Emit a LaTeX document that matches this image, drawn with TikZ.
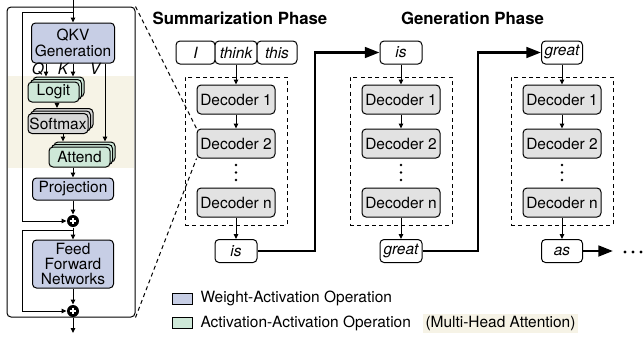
\documentclass[tikz,border=0pt]{standalone}
\usepackage{fontspec}
\setmainfont{TeX Gyre Heros}
\usetikzlibrary{arrows.meta}

\definecolor{waBlue}{RGB}{199,206,229}
\definecolor{aaGreen}{RGB}{206,232,216}
\definecolor{smGray}{RGB}{215,215,215}
\definecolor{decGray}{RGB}{226,226,226}
\definecolor{mhaBeige}{RGB}{246,243,230}

\tikzset{every picture/.style={line width=0.75pt}}
\tikzset{
  wabox/.style={draw, rounded corners=3pt, fill=waBlue, inner sep=0pt, align=center},
  aabox/.style={draw, rounded corners=3pt, fill=aaGreen, inner sep=0pt, minimum height=15pt},
  smbox/.style={draw, rounded corners=3pt, fill=smGray, inner sep=0pt, minimum height=15pt},
  decbox/.style={draw, rounded corners=3pt, fill=decGray, inner sep=0pt, minimum width=58.5pt, minimum height=21.75pt},
  tokbox/.style={draw, rounded corners=3pt, fill=white, inner sep=0pt, minimum height=17.25pt, font=\fontsize{11.6}{13}\selectfont\itshape},
  grpbox/.style={draw, dash pattern={on 3pt off 2.5pt}, inner sep=0pt, minimum width=76.5pt, minimum height=111pt},
  plusnode/.style={circle, fill=black, inner sep=0pt, minimum size=9pt,
    path picture={\draw[white, line width=1.2pt] ([yshift=-2pt]path picture bounding box.north) -- ([yshift=2pt]path picture bounding box.south);
                  \draw[white, line width=1.2pt] ([xshift=2pt]path picture bounding box.west) -- ([xshift=-2pt]path picture bounding box.east);}},
  thinarr/.style={-{Triangle[length=3.6pt,width=3.2pt]}},
  thickarr/.style={line width=2pt, -{Triangle[length=11pt,width=8pt]}},
  legsq/.style={draw, inner sep=0pt, minimum width=15pt, minimum height=8.25pt}
}

\begin{document}
\begin{tikzpicture}[x=0.75pt,y=0.75pt,yscale=-1,xscale=1,font=\fontsize{11.6}{13}\selectfont]
\useasboundingbox (0,0) rectangle (643,337);

%Shape: Rectangle (multi-head attention band)
\fill [mhaBeige] (8,76) rectangle (134,168);

%Shape: Rounded Rectangle (decoder block)
\node [draw, rounded corners=3pt, inner sep=0pt, minimum width=96pt, minimum height=232.5pt] (panel) at (71,162) {};

% Blocks of the decoder layer
\node [wabox, minimum width=62.25pt, minimum height=30pt] (qkv) at (73,43) {QKV\\[-1pt]Generation};
\node [aabox, minimum width=38.25pt] (logitB) at (58.5,87) {};
\node [aabox, minimum width=38.25pt] (logitA) at (56,89.5) {};
\node [aabox, minimum width=38.25pt] (logit) at (53.5,92) {Logit};
\node [smbox, minimum width=45pt] (softmaxB) at (63,118.5) {};
\node [smbox, minimum width=45pt] (softmaxA) at (60.5,121) {};
\node [smbox, minimum width=45pt] (softmax) at (58,123.5) {Softmax};
\node [aabox, minimum width=45.75pt] (attendB) at (84.5,152) {};
\node [aabox, minimum width=45.75pt] (attendA) at (82,154.5) {};
\node [aabox, minimum width=45.75pt] (attend) at (79.5,157) {Attend};
\node [wabox, minimum width=60.75pt, minimum height=16.5pt] (proj) at (73,189) {Projection};
\node [plusnode] (plusA) at (73,221) {};
\node [wabox, minimum width=60.75pt, minimum height=36pt] (ffn) at (73,264) {Feed\\[-1.5pt]Forward\\[-1.5pt]Networks};
\node [plusnode] (plusB) at (73,311) {};

% Text Node
\node [font=\fontsize{11.6}{13}\selectfont\itshape] (lq) at (38,69) {Q};
\node [font=\fontsize{11.6}{13}\selectfont\itshape] (lk) at (63,69) {K};
\node [font=\fontsize{11.6}{13}\selectfont\itshape] (lv) at (95,69) {V};

% Connectors of the decoder layer
\coordinate (in) at (73,0);
\coordinate (res1) at (73,12);
\coordinate (res2) at (73,230);
\coordinate (resx) at (22,0);
\coordinate (out) at (73,333);
\coordinate (xq) at (46,0);
\coordinate (xk) at (73,0);
\coordinate (xv) at (105,0);
\coordinate (xl) at (57,0);
\coordinate (xs) at (63,0);
\draw [thinarr] (in) -- (qkv.north);
\draw [thinarr] (qkv.south -| xq) -- (logitB.north -| xq);
\draw [thinarr] (qkv.south -| xk) -- (logitB.north -| xk);
\draw [thinarr] (qkv.south -| xv) -- (attendB.north -| xv);
\draw [thinarr] (logit.south -| xl) -- (softmaxB.north -| xl);
\draw [thinarr] (softmax.south -| xs) -- (attendB.north -| xs);
\draw [thinarr] (attend.south -| proj) -- (proj.north);
\draw [thinarr] (proj) -- (plusA);
\draw [thinarr] (plusA) -- (ffn.north);
\draw [thinarr] (ffn) -- (plusB);
\draw [thinarr] (plusB) -- (out);
\draw [thinarr] (res1) -- (res1 -| resx) -- (plusA -| resx) -- (plusA);
\draw [thinarr] (res2) -- (res2 -| resx) -- (plusB -| resx) -- (plusB);

% Text Node
\node [font=\fontsize{12.6}{14}\selectfont\bfseries] (sumtitle) at (240,18) {Summarization Phase};
\node [font=\fontsize{12.6}{14}\selectfont\bfseries] (gentitle) at (472.5,18) {Generation Phase};

% Summarization column
\node [tokbox, minimum width=29.25pt] (tokI) at (195.5,52.5) {I};
\node [tokbox, minimum width=31.5pt] (tokThink) at (236,52.5) {think};
\node [tokbox, minimum width=30pt] (tokThis) at (277,52.5) {this};
\node [grpbox] (grpA) at (236,151) {};
\node [decbox] (decA1) at (236,99.5) {Decoder 1};
\node [decbox] (decA2) at (236,143.5) {Decoder 2};
\node [decbox] (decAn) at (236,202.5) {Decoder n};
\node [tokbox, minimum width=31.5pt] (outA) at (236,251) {is};
\fill (236,165) circle (1pt) (236,172.5) circle (1pt) (236,180) circle (1pt);
\draw [thinarr] (tokThink) -- (decA1);
\draw [thinarr] (decA1) -- (decA2);
\draw [thinarr] (decAn) -- (outA);

% Generation column 1
\node [tokbox, minimum width=31.5pt] (tokB) at (401,52.5) {is};
\node [grpbox] (grpB) at (401,151) {};
\node [decbox] (decB1) at (401,99.5) {Decoder 1};
\node [decbox] (decB2) at (401,143.5) {Decoder 2};
\node [decbox] (decBn) at (401,202.5) {Decoder n};
\node [tokbox, minimum width=31.5pt] (outB) at (401,251) {great};
\fill (401,165) circle (1pt) (401,172.5) circle (1pt) (401,180) circle (1pt);
\draw [thinarr] (tokB) -- (decB1);
\draw [thinarr] (decB1) -- (decB2);
\draw [thinarr] (decBn) -- (outB);

% Generation column 2
\node [tokbox, minimum width=30.75pt] (tokC) at (562,52.5) {great};
\node [grpbox] (grpC) at (562,151) {};
\node [decbox] (decC1) at (562,99.5) {Decoder 1};
\node [decbox] (decC2) at (562,143.5) {Decoder 2};
\node [decbox] (decCn) at (562,202.5) {Decoder n};
\node [tokbox, minimum width=30.75pt] (outC) at (562,251) {as};
\fill (562,165) circle (1pt) (562,172.5) circle (1pt) (562,180) circle (1pt);
\draw [thinarr] (tokC) -- (decC1);
\draw [thinarr] (decC1) -- (decC2);
\draw [thinarr] (decCn) -- (outC);

% Feedback connectors
\coordinate (bendA) at (315,150);
\coordinate (bendB) at (478,150);
\coordinate (nextC) at (613,251);
\draw [thickarr] (outA.east) -- (outA.east -| bendA) -- (tokB.west -| bendA) -- (tokB.west);
\draw [thickarr] (outB.east) -- (outB.east -| bendB) -- (tokC.west -| bendB) -- (tokC.west);
\draw [thickarr] (outC.east) -- (nextC);
\fill (625,252) circle (1.3pt) (633,252) circle (1.3pt) (641,252) circle (1.3pt);

% Zoom lines
\draw [dash pattern={on 3pt off 2.5pt}] (panel.north east) -- (decA2.north west);
\draw [dash pattern={on 3pt off 2.5pt}] (panel.south east) -- (decA2.south west);

% Legend
\node [legsq, fill=waBlue] (legWA) at (182,298.5) {};
\node [legsq, fill=aaGreen] (legAA) at (182,323) {};
\node [anchor=west, inner sep=0pt] (txtWA) at (200,298.5) {Weight-Activation Operation};
\node [anchor=west, inner sep=0pt] (txtAA) at (200,323) {Activation-Activation Operation};
\node [fill=mhaBeige, inner sep=0pt, minimum width=116.25pt, minimum height=14.25pt] (txtMHA) at (500.5,323.5) {(Multi-Head Attention)};

\end{tikzpicture}
\end{document}
